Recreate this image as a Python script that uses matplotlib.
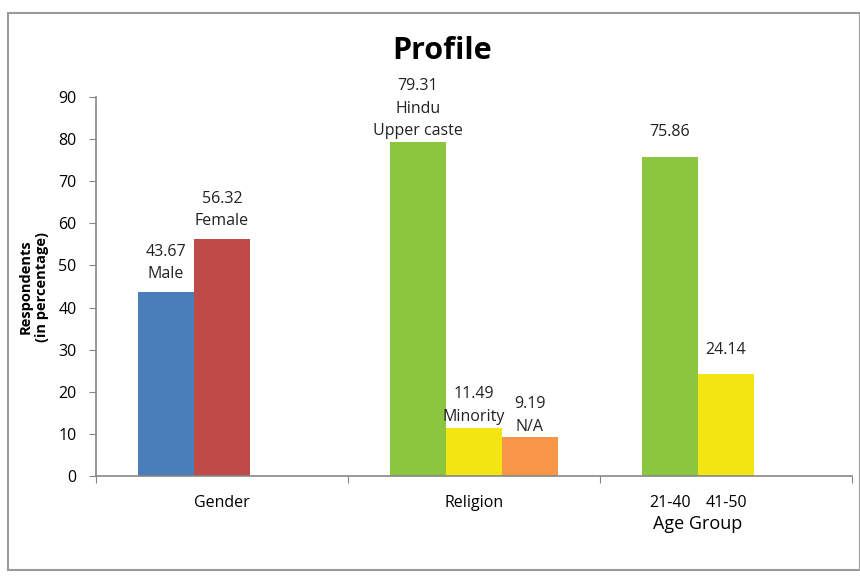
import numpy as np
import matplotlib.pyplot as plt
from matplotlib.patches import Rectangle

plt.rcParams['font.family'] = ['Open Sans', 'DejaVu Sans']

# data
groups = ['Gender', 'Religion', '']
gender_vals = [43.67, 56.32]
gender_lbls = ['Male', 'Female']
religion_vals = [79.31, 11.49, 9.19]
religion_lbls = ['Hindu\nUpper caste', 'Minority', 'N/A']
age_vals = [75.86, 24.14]
age_lbls = ['21-40', '41-50']

gender_cols = ['#4A7EBB', '#BE4B48']
religion_cols = ['#8CC63F', '#F2E512', '#F79646']
age_cols = ['#8CC63F', '#F2E512']

fig = plt.figure(figsize=(8.6, 5.76), dpi=100)
ax = fig.add_axes([0.1116, 0.1736, 0.8791, 0.658])

w = 0.222
start = 0.278


def draw_group(i, vals, cols, lbls, off=7):
    xs = [i + start + w * k for k in range(len(vals))]
    ax.bar(xs, vals, width=w, color=cols, edgecolor='none')
    for x, v, l in zip(xs, vals, lbls):
        txt = '%.2f' % v if l is None else '%.2f\n%s' % (v, l)
        ax.annotate(txt, (x, v), xytext=(0, off), textcoords='offset points',
                    ha='center', va='bottom', fontsize=11.5, color='#222222',
                    linespacing=1.55)
    return xs


draw_group(0, gender_vals, gender_cols, gender_lbls)
draw_group(1, religion_vals, religion_cols, religion_lbls, off=2)
age_x = draw_group(2, age_vals, age_cols, [None, None], off=12)

ax.set_xlim(0, 3)
ax.set_ylim(0, 90)
ax.set_yticks(range(0, 91, 10))
ax.set_xticks([0, 1, 2, 3])
ax.set_xticklabels([])
ax.tick_params(axis='x', length=5, direction='out', color='#868686')
ax.tick_params(axis='y', length=5, direction='out', color='#868686',
               labelsize=11.5, pad=9)
for s in ['top', 'right']:
    ax.spines[s].set_visible(False)
for s in ['left', 'bottom']:
    ax.spines[s].set_color('#868686')
    ax.spines[s].set_linewidth(1.2)

# category labels
for i, g in enumerate(groups):
    if g:
        ax.text(i + 0.5, -4.5, g, ha='center', va='top', fontsize=11.5)
for x, l in zip(age_x, age_lbls):
    ax.text(x, -4.5, l, ha='center', va='top', fontsize=11.5)
ax.text(np.mean(age_x), -9.3, 'Age Group', ha='center', va='top', fontsize=13)

ax.set_ylabel('Respondents\n(in percentage)', fontsize=10.5, fontweight='bold',
              labelpad=7, linespacing=1.2)

fig.text(0.514, 0.912, 'Profile', ha='center', va='center', fontsize=22,
         fontweight='bold')

fig.patches.append(Rectangle((0.0095, 0.01), 0.99, 0.967, transform=fig.transFigure,
                             fill=False, edgecolor='#9a9a9a', linewidth=1.5))

fig.savefig('out.png', dpi=100)
